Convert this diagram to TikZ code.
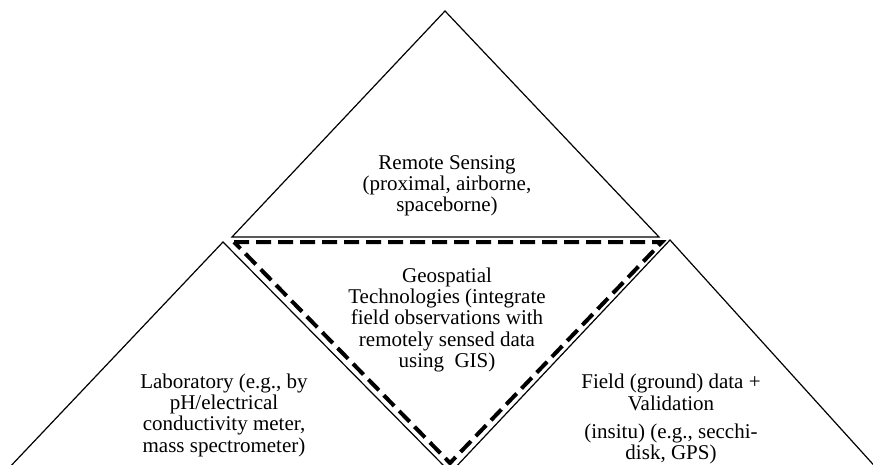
\documentclass[tikz,border=0pt]{standalone}
\usepackage{fontspec}
\setmainfont{Liberation Serif}
\usetikzlibrary{calc}
\tikzset{
side/.style={line width=1.2pt, line join=miter},
dside/.style={line width=4pt, dash pattern=on 15pt off 7pt, line join=miter},
lbl/.style={align=center, inner sep=0pt, anchor=north, font=\fontsize{21}{21.3}\selectfont},
}

\begin{document}
\begin{tikzpicture}[x=1pt,y=-1pt]
\useasboundingbox (0,0) rectangle (873,464);
\coordinate (rsapex) at (445,11);
\coordinate (rsleft) at (232,237);
\coordinate (rsright) at (659,237);
\coordinate (labapex) at (223,242);
\coordinate (lableft) at (7,470);
\coordinate (labright) at (448,470);
\coordinate (fldapex) at (670,240);
\coordinate (fldleft) at (453,470);
\coordinate (fldright) at (880,472);
\coordinate (geol) at (234,242);
\coordinate (geor) at (662,242);
\coordinate (geob) at (450,463);
\node[lbl] (rs) at (447,155) {Remote Sensing\\(proximal, airborne,\\spaceborne)};
\node[lbl] (geo) at (447,267.5) {Geospatial\\Technologies (integrate\\field observations with\\remotely sensed data\\using\ \ GIS)};
\node[lbl] (lab) at (224,373.5) {Laboratory (e.g., by\\pH/electrical\\conductivity meter,\\mass spectrometer)};
\node[lbl] (fld) at (671,374) {Field (ground) data +\\Validation\\[7pt](insitu) (e.g., secchi-\\disk, GPS)};
\draw[side] (rsleft) -- (rsapex) -- (rsright) -- cycle;
\draw[side] (lableft) -- (labapex) -- (labright);
\draw[side] (fldleft) -- (fldapex) -- (fldright);
\draw[dside] (geol) -- (geor) -- (geob) -- cycle;
\end{tikzpicture}
\end{document}
